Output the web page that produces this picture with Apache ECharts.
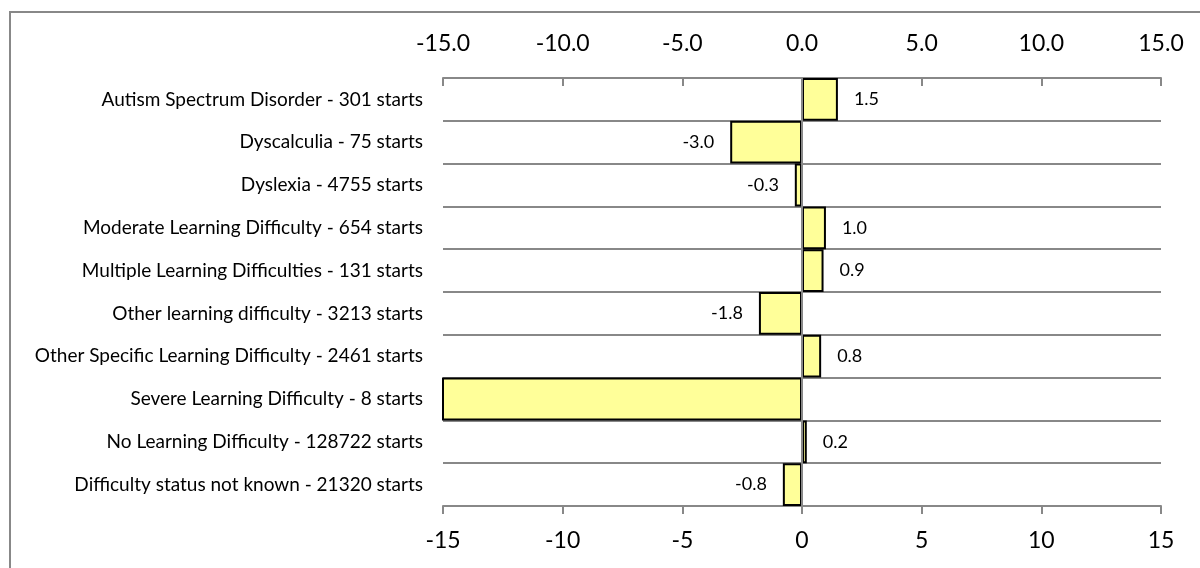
<!DOCTYPE html>
<html>
<head>
<meta charset="utf-8">
<script src="https://cdn.jsdelivr.net/npm/echarts@6/dist/echarts.min.js"></script>
<style>
  html, body { margin: 0; padding: 0; background: #ffffff; }
  #chart { width: 1200px; height: 568px; }
</style>
</head>
<body>
<div id="chart"></div>
<script>
// Learning difficulty groups, listed top to bottom
const categories = [
  'Autism Spectrum Disorder - 301 starts',
  'Dyscalculia - 75 starts',
  'Dyslexia - 4755 starts',
  'Moderate Learning Difficulty - 654 starts',
  'Multiple Learning Difficulties - 131 starts',
  'Other learning difficulty - 3213 starts',
  'Other Specific Learning Difficulty - 2461 starts',
  'Severe Learning Difficulty - 8 starts',
  'No Learning Difficulty - 128722 starts',
  'Difficulty status not known - 21320 starts'
];
// Difference values per group (the severe group runs past the axis minimum)
const values = [1.5, -3.0, -0.3, 1.0, 0.9, -1.8, 0.8, -20.0, 0.2, -0.8];
// Axis range and step
const axisMin = -15;
const axisMax = 15;
const axisStep = 5;

const FONT = 'Lato';
const GREY = '#888888';

const chart = echarts.init(document.getElementById('chart'), null, { renderer: 'canvas' });

chart.setOption({
  animation: false,
  backgroundColor: '#ffffff',
  textStyle: { fontFamily: FONT },
  graphic: [{
    type: 'rect',
    shape: { x: 10, y: 12, width: 1220, height: 620 },
    style: { fill: 'none', stroke: GREY, lineWidth: 2 },
    silent: true,
    z: -1
  }],
  grid: { left: 443, right: 39, top: 78, bottom: 62, containLabel: false },
  xAxis: [
    {
      type: 'value', position: 'top', min: axisMin, max: axisMax, interval: axisStep,
      axisLine: { show: true, lineStyle: { color: GREY, width: 2 } },
      axisTick: { show: true, inside: true, length: 8, lineStyle: { color: GREY, width: 2 } },
      axisLabel: { color: '#000', fontSize: 23, fontFamily: FONT, margin: 23,
                   formatter: v => v.toFixed(1) },
      splitLine: { show: false }
    },
    {
      type: 'value', position: 'bottom', min: axisMin, max: axisMax, interval: axisStep,
      axisLine: { show: true, lineStyle: { color: GREY, width: 2 } },
      axisTick: { show: true, inside: false, length: 8, lineStyle: { color: GREY, width: 2 } },
      axisLabel: { color: '#000', fontSize: 23, fontFamily: FONT, margin: 23 },
      splitLine: { show: false }
    }
  ],
  yAxis: {
    type: 'category', data: categories, inverse: true,
    axisLine: { show: false },
    axisTick: { show: false },
    axisLabel: { color: '#000', fontSize: 19, fontFamily: FONT, margin: 20 },
    splitLine: { show: true, lineStyle: { color: GREY, width: 2 } }
  },
  series: [{
    type: 'bar',
    xAxisIndex: 1,
    data: values.map(v => ({
      value: v,
      // negative bars carry their labels on the left side
      label: { position: v < 0 ? 'left' : 'right' }
    })),
    barCategoryGap: 0,
    clip: true,
    itemStyle: { color: '#FFFF99', borderColor: '#000000', borderWidth: 2 },
    label: {
      show: true,
      distance: 16,
      color: '#000',
      fontSize: 18,
      fontFamily: FONT,
      formatter: p => (p.value < axisMin || p.value > axisMax) ? '' : p.value.toFixed(1)
    },
    markLine: {
      silent: true,
      symbol: 'none',
      label: { show: false },
      lineStyle: { color: GREY, width: 2, type: 'solid' },
      data: [{ xAxis: 0 }]
    }
  }]
});
</script>
</body>
</html>
